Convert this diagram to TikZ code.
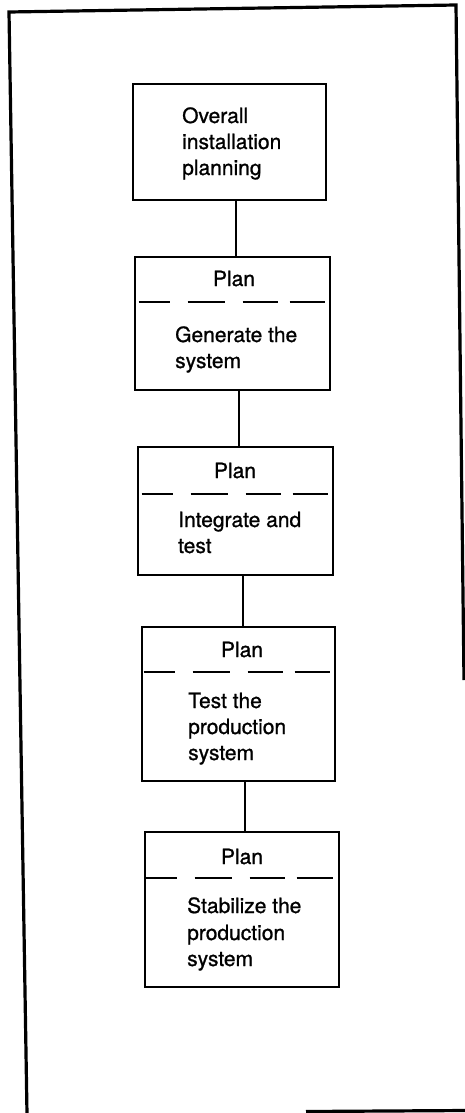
\documentclass[tikz,border=0pt]{standalone}
\usepackage{fontspec}
\setmainfont{TeX Gyre Heros}
\newfontfamily\lblfont{TeX Gyre Heros}[FakeBold=1.0]
\begin{document}
\begin{tikzpicture}[x=1pt,y=-1pt,
  frame/.style={line width=3.2pt, line join=miter},
  stage/.style={draw, line width=2.8pt, rectangle, inner sep=0pt},
  link/.style={line width=2pt},
  sep/.style={line width=2pt, dash pattern=on 31pt off 18pt on 37pt off 18pt on 35pt off 12pt on 36pt off 40pt},
  txt/.style={font=\lblfont\fontsize{21}{26}\selectfont, align=left, inner sep=0pt, anchor=base west},
  plan/.style={font=\lblfont\fontsize{21}{26}\selectfont, inner sep=0pt, anchor=base}]
\useasboundingbox (0,0) rectangle (465,1113);
% outer frame
\coordinate (fbl) at (27,1114);
\coordinate (ftl) at (9,12);
\coordinate (ftr) at (456,5);
\coordinate (fre) at (464,680);
\coordinate (fbs) at (306,1111.5);
\coordinate (fbe) at (466,1110.5);
\draw[frame] (fbl) -- (ftl) -- (ftr) -- (fre);
\draw[frame] (fbs) -- (fbe);
% boxes
\node[stage, minimum width=193pt, minimum height=116pt] (b1) at (229.5,142) {};
\node[stage, minimum width=195pt, minimum height=133pt] (b2) at (232.5,323.5) {};
\node[stage, minimum width=195pt, minimum height=128pt] (b3) at (235.5,511) {};
\node[stage, minimum width=193pt, minimum height=154pt] (b4) at (238.5,704) {};
\node[stage, minimum width=194pt, minimum height=155pt] (b5) at (242,909.5) {};
% dashed separators
\draw[sep] ([shift={(5,46)}]b2.north west) -- ([shift={(-6,46)}]b2.north east);
\draw[sep] ([shift={(5,48)}]b3.north west) -- ([shift={(-6,48)}]b3.north east);
\draw[sep] ([shift={(3,46)}]b4.north west) -- ([shift={(-6,46)}]b4.north east);
\draw[sep] ([shift={(2,47)}]b5.north west) -- ([shift={(-6,47)}]b5.north east);
% texts
\node[txt] (t1a) at (182,123) {Overall};
\node[txt] (t1b) at (182,149) {installation};
\node[txt] (t1c) at (182,175) {planning};
\node[plan] (p2) at (234,286) {Plan};
\node[txt] (t2a) at (175,342) {Generate the};
\node[txt] (t2b) at (175,368) {system};
\node[plan] (p3) at (235,478) {Plan};
\node[txt] (t3a) at (178,527) {Integrate and};
\node[txt] (t3b) at (178,553) {test};
\node[plan] (p4) at (242,657) {Plan};
\node[txt] (t4a) at (188,708) {Test the};
\node[txt] (t4b) at (188,734) {production};
\node[txt] (t4c) at (188,760) {system};
\node[plan] (p5) at (242,864) {Plan};
\node[txt] (t5a) at (187,913) {Stabilize the};
\node[txt] (t5b) at (187,940) {production};
\node[txt] (t5c) at (187,966) {system};
% connectors
\draw[link] ([xshift=6.5pt]b1.south) -- ([xshift=3.5pt]b2.north);
\draw[link] ([xshift=6pt]b2.south) -- ([xshift=3pt]b3.north);
\draw[link] ([xshift=7pt]b3.south) -- ([xshift=4pt]b4.north);
\draw[link] ([xshift=6.5pt]b4.south) -- ([xshift=3pt]b5.north);
\end{tikzpicture}
\end{document}
